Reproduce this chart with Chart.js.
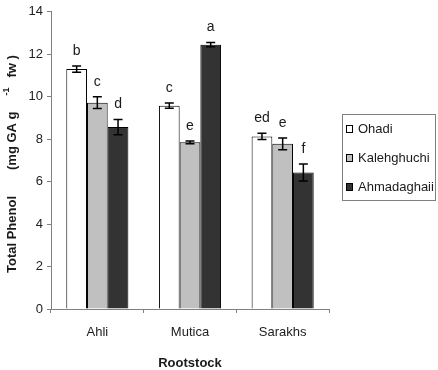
<!DOCTYPE html>
<html>
<head>
<meta charset="utf-8">
<script src="https://cdn.jsdelivr.net/npm/chart.js@4.4.1/dist/chart.umd.min.js"></script>
<style>
  html, body { margin: 0; padding: 0; background: #fff; }
  #wrap { width: 438px; height: 370px; }
</style>
</head>
<body>
<div id="wrap"><canvas id="myChart" width="438" height="370"></canvas></div>
<script>
// Daten
const categories = ['Ahli', 'Mutica', 'Sarakhs'];
const seriesNames = ['Ohadi', 'Kalehghuchi', 'Ahmadaghaii'];
const ohadi = [11.3, 9.58, 8.13];
const kalehghuchi = [9.72, 7.85, 7.78];
const ahmadaghaii = [8.57, 12.45, 6.43];
const ohadiErr = [0.15, 0.12, 0.15];
const kalehghuchiErr = [0.28, 0.06, 0.28];
const ahmadaghaiiErr = [0.36, 0.1, 0.4];
const ohadiLetters = ['b', 'c', 'ed'];
const kalehghuchiLetters = ['c', 'e', 'e'];
const ahmadaghaiiLetters = ['d', 'a', 'f'];
const yMin = 0, yMax = 14, yStep = 2;

const FONT = "'Liberation Sans', Arial, sans-serif";
const AXIS = '#808080';

// Fehlerbalken + Buchstaben + Achsentitel + Legende
const extras = {
  id: 'extras',
  afterDatasetsDraw(chart) {
    const ctx = chart.ctx;
    const y = chart.scales.y;
    ctx.save();
    chart.data.datasets.forEach((ds, i) => {
      const meta = chart.getDatasetMeta(i);
      meta.data.forEach((bar, j) => {
        const v = ds.data[j], e = ds.err[j];
        const top = y.getPixelForValue(v + e);
        const bot = y.getPixelForValue(v - e);
        ctx.strokeStyle = '#000';
        ctx.lineWidth = 1.5;
        ctx.beginPath();
        ctx.moveTo(bar.x, top); ctx.lineTo(bar.x, bot);
        ctx.moveTo(bar.x - 4.5, top); ctx.lineTo(bar.x + 4.5, top);
        ctx.moveTo(bar.x - 4.5, bot); ctx.lineTo(bar.x + 4.5, bot);
        ctx.stroke();
        ctx.fillStyle = '#1a1a1a';
        ctx.font = '14px ' + FONT;
        ctx.textAlign = 'center';
        ctx.textBaseline = 'middle';
        ctx.fillText(ds.letters[j], bar.x, top - 15);
      });
    });
    ctx.restore();
  },
  afterDraw(chart) {
    const ctx = chart.ctx;
    const area = chart.chartArea;
    ctx.save();
    // x Titel
    ctx.fillStyle = '#1a1a1a';
    ctx.font = 'bold 13px ' + FONT;
    ctx.textAlign = 'center';
    ctx.textBaseline = 'middle';
    ctx.fillText('Rootstock', (area.left + area.right) / 2, 363);

    // y Titel (gedreht, mit Hochzahl)
    ctx.translate(12, 273);
    ctx.rotate(-Math.PI / 2);
    ctx.textAlign = 'left';
    ctx.textBaseline = 'middle';
    ctx.font = 'bold 13px ' + FONT;
    let pos = 0;
    ctx.fillText('Total Phenol', pos, 0);
    pos += ctx.measureText('Total Phenol').width + 26;
    ctx.fillText('(mg GA g', pos, 0);
    pos += ctx.measureText('(mg GA g').width + 16;
    ctx.font = 'bold 9px ' + FONT;
    ctx.fillText('-1', pos, -5);
    pos += ctx.measureText('-1').width + 10;
    ctx.font = 'bold 13px ' + FONT;
    ctx.fillText('fw )', pos, 0);
    ctx.restore();

    // Legende mit Rahmen
    ctx.save();
    ctx.strokeStyle = AXIS;
    ctx.lineWidth = 1;
    ctx.strokeRect(342.5, 114.5, 93, 86);
    ctx.font = '13px ' + FONT;
    ctx.textAlign = 'left';
    ctx.textBaseline = 'middle';
    const rowsY = [129, 158, 187];
    chart.data.datasets.forEach((ds, i) => {
      ctx.fillStyle = ds.backgroundColor;
      ctx.fillRect(346.5, rowsY[i] - 3.5, 6, 7);
      ctx.strokeStyle = '#000';
      ctx.strokeRect(346.5, rowsY[i] - 3.5, 6, 7);
      ctx.fillStyle = '#1a1a1a';
      ctx.fillText(ds.label, 358, rowsY[i]);
    });
    ctx.restore();
  }
};

const ChartElement = document.getElementById('myChart');
const chart = new Chart(ChartElement, {
  type: 'bar',
  data: {
    labels: categories,
    datasets: [
      { label: seriesNames[0], data: ohadi, err: ohadiErr, letters: ohadiLetters,
        backgroundColor: '#ffffff', borderColor: '#000', borderWidth: 1 },
      { label: seriesNames[1], data: kalehghuchi, err: kalehghuchiErr, letters: kalehghuchiLetters,
        backgroundColor: '#c0c0c0', borderColor: '#000', borderWidth: 1 },
      { label: seriesNames[2], data: ahmadaghaii, err: ahmadaghaiiErr, letters: ahmadaghaiiLetters,
        backgroundColor: '#333333', borderColor: '#000', borderWidth: 1 }
    ]
  },
  options: {
    responsive: false,
    animation: false,
    layout: { padding: { left: 0, right: 109, top: 8, bottom: 0 } },
    datasets: { bar: { categoryPercentage: 0.67, barPercentage: 1.0 } },
    plugins: { legend: { display: false }, tooltip: { enabled: false } },
    scales: {
      x: {
        afterFit: (s) => { s.height = 61; },
        grid: { drawOnChartArea: false, color: AXIS, tickLength: 4, offset: true },
        border: { color: AXIS, width: 1 },
        ticks: { color: '#222', font: { family: FONT, size: 13 }, padding: 12 }
      },
      y: {
        min: yMin, max: yMax,
        afterFit: (s) => { s.width = 51; },
        grid: { drawOnChartArea: false, color: AXIS, tickLength: 4 },
        border: { color: AXIS, width: 1 },
        ticks: { stepSize: yStep, color: '#222', font: { family: FONT, size: 13 }, padding: 4 }
      }
    }
  },
  plugins: [extras]
});
</script>
</body>
</html>
